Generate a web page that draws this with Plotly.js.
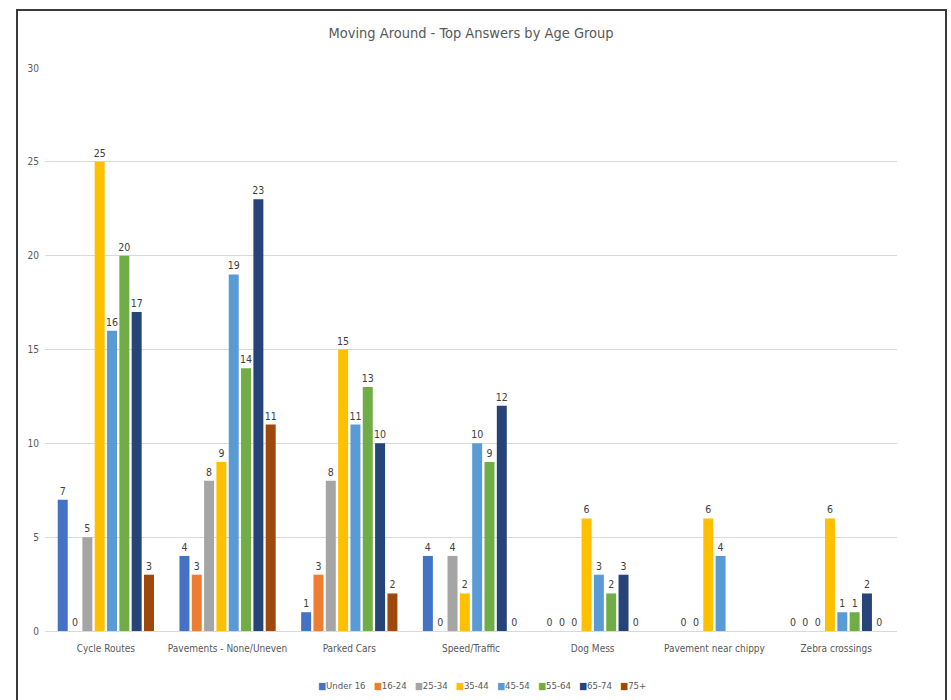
<!DOCTYPE html>
<html>
<head>
<meta charset="utf-8">
<script src="https://cdn.plot.ly/plotly-3.0.1.min.js"></script>
<style>
  html, body { margin: 0; padding: 0; background: #ffffff; }
  #chart { width: 951px; height: 700px; }
</style>
</head>
<body>
<div id="chart"></div>
<script>
// Survey topics (x categories)
const categories = [
  "Cycle Routes",
  "Pavements - None/Uneven",
  "Parked Cars",
  "Speed/Traffic",
  "Dog Mess",
  "Pavement near chippy",
  "Zebra crossings"
];

// Age groups (one series each)
const ageGroups = ["Under 16", "16-24", "25-34", "35-44", "45-54", "55-64", "65-74", "75+"];

// Answer counts per age group, in category order (null = no answer recorded)
const under16 = [7, 4, 1, 4, 0, null, 0];
const age16to24 = [0, 3, 3, 0, 0, 0, 0];
const age25to34 = [5, 8, 8, 4, 0, 0, 0];
const age35to44 = [25, 9, 15, 2, 6, 6, 6];
const age45to54 = [16, 19, 11, 10, 3, 4, 1];
const age55to64 = [20, 14, 13, 9, 2, null, 1];
const age65to74 = [17, 23, 10, 12, 3, null, 2];
const age75plus = [3, 11, 2, 0, 0, null, 0];

const seriesValues = [under16, age16to24, age25to34, age35to44, age45to54, age55to64, age65to74, age75plus];
const seriesColors = ["#4472C4", "#ED7D31", "#A5A5A5", "#FFC000", "#5B9BD5", "#70AD47", "#264478", "#9E480E"];

const FONT = '"Liberation Sans Narrow", "DejaVu Sans Condensed", Lato, sans-serif';

const traces = ageGroups.map((name, i) => ({
  type: "bar",
  name: name,
  x: categories,
  y: seriesValues[i],
  marker: { color: seriesColors[i], line: { width: 0 } },
  texttemplate: "%{y}",
  textposition: "outside",
  constraintext: "none",
  cliponaxis: false,
  textfont: { family: FONT, size: 10.5, color: "#404040" },
  hoverinfo: "x+y+name",
  showlegend: false
}));

// Compact key under the plot: a coloured square before each age group name
const legendText = ageGroups
  .map((name, i) => `<span style="color:${seriesColors[i]}">■</span>${name}`)
  .join("\u00a0\u00a0\u00a0");

const layout = {
  width: 951,
  height: 700,
  paper_bgcolor: "#ffffff",
  plot_bgcolor: "#ffffff",
  margin: { l: 45, r: 54, t: 68, b: 69, autoexpand: false },
  font: { family: FONT, size: 10, color: "#595959" },
  title: {
    text: "Moving Around - Top Answers by Age Group",
    x: 0.5,
    xref: "paper",
    y: 1 - 33 / 700,
    yanchor: "middle",
    font: { family: FONT, size: 14.5, color: "#595959" }
  },
  barmode: "group",
  bargap: 0.19,
  bargroupgap: 0.19,
  xaxis: {
    type: "category",
    showgrid: false,
    showline: true,
    linecolor: "#D9D9D9",
    linewidth: 1,
    ticks: "",
    ticklabelstandoff: 8,
    tickfont: { family: FONT, size: 10, color: "#595959" },
    fixedrange: true
  },
  yaxis: {
    range: [0, 30],
    dtick: 5,
    tick0: 0,
    showgrid: true,
    gridcolor: "#D9D9D9",
    gridwidth: 1,
    zeroline: false,
    showline: false,
    ticks: "",
    ticklabelstandoff: 5,
    tickfont: { family: FONT, size: 10, color: "#595959" },
    fixedrange: true
  },
  showlegend: false,
  annotations: [{
    text: legendText,
    xref: "paper",
    yref: "paper",
    x: (482 - 45) / 852,
    xanchor: "center",
    y: (631 - 685) / 563,
    yanchor: "middle",
    showarrow: false,
    font: { family: FONT, size: 9.5, color: "#595959" }
  }],
  shapes: [{
    // outer chart frame
    type: "rect",
    xref: "paper",
    yref: "paper",
    x0: (17 - 45) / 852,
    x1: (946 - 45) / 852,
    y0: (631 - 710) / 563,
    y1: (631 - 10) / 563,
    line: { color: "#3a3a3a", width: 2 },
    fillcolor: "rgba(0,0,0,0)",
    layer: "above"
  }]
};

Plotly.newPlot("chart", traces, layout, { displayModeBar: false, staticPlot: true });
</script>
</body>
</html>
